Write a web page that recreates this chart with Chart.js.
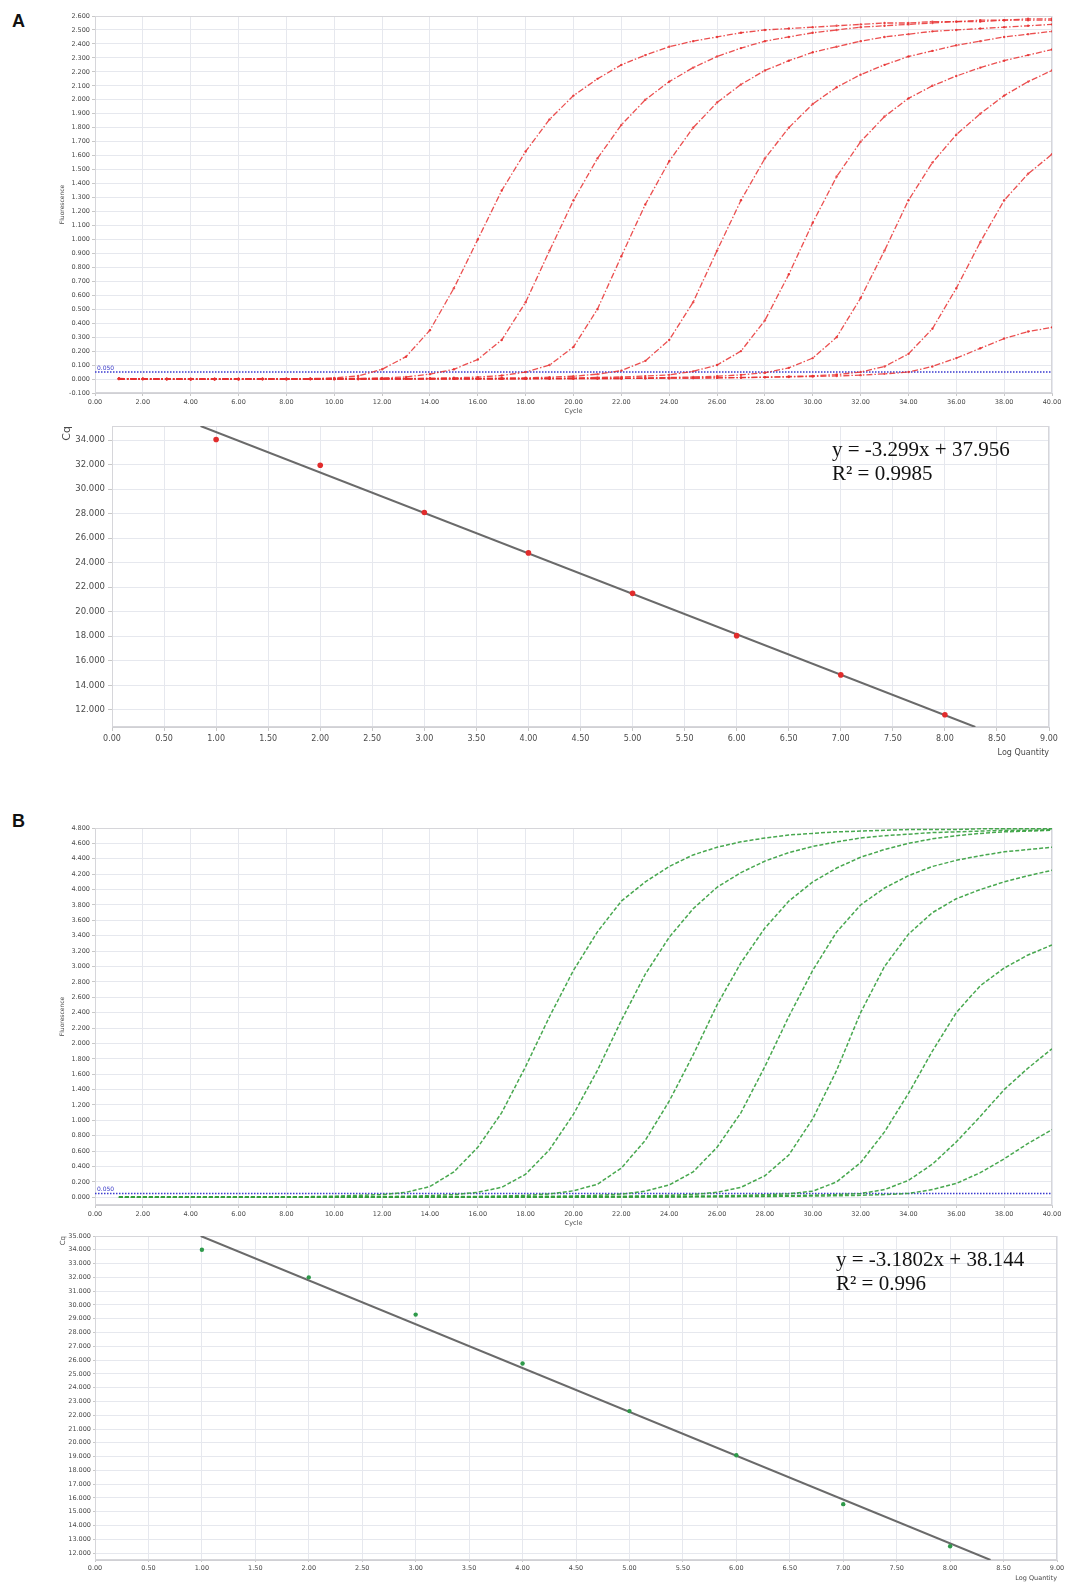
<!DOCTYPE html>
<html>
<head>
<meta charset="utf-8">
<script src="https://cdn.jsdelivr.net/npm/chart.js@4.4.1/dist/chart.umd.min.js"></script>
<style>
  html, body { margin: 0; padding: 0; background: #fff; }
  body { position: relative; width: 1067px; height: 1582px; overflow: hidden; }
  canvas { position: absolute; }
  .panel { position: absolute; font: bold 18px "Liberation Sans", Arial, sans-serif; line-height: 18px; color: #111; }
  .eq { position: absolute; font: 21px "Liberation Serif", "Times New Roman", serif; line-height: 24px; color: #111; white-space: nowrap; }
</style>
</head>
<body>
<div class="panel" style="left:12px;top:12px">A</div>
<canvas id="ampA" width="1008" height="415" style="left:59px;top:0px"></canvas>
<canvas id="stdA" width="1006" height="348" style="left:61px;top:410px"></canvas>
<div class="eq" style="left:832px;top:437px">y = -3.299x + 37.956<br>R² = 0.9985</div>

<div class="panel" style="left:12px;top:812px">B</div>
<canvas id="ampB" width="1008" height="415" style="left:59px;top:812px"></canvas>
<canvas id="stdB" width="1008" height="362" style="left:59px;top:1220px"></canvas>
<div class="eq" style="left:836px;top:1247px">y = -3.1802x + 38.144<br>R² = 0.996</div>

<script>
// ---- data ----
const cycles = [1,2,3,4,5,6,7,8,9,10,11,12,13,14,15,16,17,18,19,20,21,22,23,24,25,26,27,28,29,30,31,32,33,34,35,36,37,38,39,40];

// panel A amplification (red)
const ampA1 = [0.004,0.002,0.001,0.000,0.000,-0.001,0.000,0.001,0.003,0.008,0.022,0.07,0.16,0.35,0.65,1.00,1.35,1.63,1.86,2.03,2.15,2.25,2.32,2.38,2.42,2.45,2.48,2.50,2.51,2.52,2.53,2.54,2.55,2.55,2.56,2.56,2.57,2.57,2.58,2.58];
const ampA2 = [0.003,0.001,0.000,0.000,-0.001,0.000,0.000,0.001,0.002,0.003,0.005,0.008,0.015,0.035,0.07,0.14,0.28,0.55,0.92,1.28,1.58,1.82,2.00,2.13,2.23,2.31,2.37,2.42,2.45,2.48,2.50,2.52,2.53,2.54,2.55,2.56,2.56,2.57,2.57,2.57];
const ampA3 = [0.002,0.001,0.000,-0.001,0.000,0.000,0.001,0.000,0.001,0.002,0.002,0.003,0.004,0.006,0.009,0.014,0.025,0.05,0.10,0.23,0.50,0.88,1.25,1.56,1.80,1.98,2.11,2.21,2.28,2.34,2.38,2.42,2.45,2.47,2.49,2.50,2.51,2.52,2.53,2.54];
const ampA4 = [0.002,0.000,0.000,-0.001,0.000,0.001,0.000,0.000,0.001,0.001,0.002,0.002,0.003,0.003,0.004,0.005,0.007,0.009,0.013,0.02,0.035,0.06,0.13,0.28,0.55,0.92,1.28,1.58,1.80,1.97,2.09,2.18,2.25,2.31,2.35,2.39,2.42,2.45,2.47,2.49];
const ampA5 = [0.001,0.000,-0.001,0.000,0.000,0.001,0.000,-0.001,0.000,0.001,0.001,0.002,0.002,0.002,0.003,0.003,0.004,0.005,0.006,0.008,0.011,0.015,0.021,0.03,0.055,0.10,0.20,0.42,0.75,1.12,1.45,1.70,1.88,2.01,2.10,2.17,2.23,2.28,2.32,2.36];
const ampA6 = [0.001,0.000,0.000,-0.001,0.000,0.000,0.001,0.000,0.000,-0.001,0.000,0.001,0.001,0.001,0.002,0.002,0.002,0.003,0.003,0.004,0.005,0.006,0.008,0.011,0.015,0.02,0.03,0.045,0.08,0.15,0.30,0.58,0.92,1.28,1.55,1.75,1.90,2.03,2.13,2.21];
const ampA7 = [0.000,0.001,0.000,0.000,-0.001,0.000,0.000,0.001,0.000,0.000,0.000,0.001,0.001,0.001,0.001,0.002,0.002,0.002,0.003,0.003,0.004,0.004,0.005,0.006,0.007,0.009,0.011,0.014,0.018,0.023,0.032,0.05,0.09,0.18,0.36,0.65,0.98,1.28,1.47,1.61];
const ampA8 = [0.000,0.000,0.001,0.000,0.000,-0.001,0.000,0.000,0.000,0.001,0.000,0.001,0.001,0.001,0.001,0.002,0.002,0.002,0.003,0.003,0.004,0.004,0.005,0.006,0.007,0.008,0.010,0.012,0.015,0.018,0.022,0.028,0.037,0.05,0.09,0.15,0.22,0.29,0.34,0.37];

// panel B amplification (green)
const ampB1 = [0.000,0.001,0.000,0.000,0.001,0.002,0.003,0.005,0.009,0.015,0.025,0.035,0.065,0.14,0.33,0.65,1.10,1.70,2.35,2.95,3.45,3.85,4.10,4.30,4.45,4.55,4.62,4.67,4.71,4.73,4.75,4.76,4.77,4.78,4.78,4.78,4.79,4.79,4.79,4.79];
const ampB2 = [0.000,0.000,0.001,0.000,0.000,0.001,0.001,0.002,0.003,0.004,0.006,0.009,0.014,0.022,0.035,0.065,0.13,0.30,0.62,1.08,1.65,2.30,2.90,3.38,3.75,4.03,4.22,4.37,4.48,4.56,4.62,4.67,4.70,4.72,4.74,4.75,4.76,4.77,4.77,4.78];
const ampB3 = [0.000,0.001,0.000,0.000,0.000,0.001,0.001,0.001,0.002,0.002,0.003,0.004,0.005,0.007,0.009,0.012,0.017,0.025,0.045,0.085,0.17,0.38,0.74,1.25,1.85,2.50,3.05,3.50,3.85,4.10,4.28,4.42,4.52,4.60,4.66,4.70,4.73,4.75,4.76,4.77];
const ampB4 = [0.000,0.000,0.001,0.000,0.000,0.000,0.001,0.001,0.001,0.002,0.002,0.003,0.003,0.004,0.005,0.006,0.008,0.010,0.013,0.018,0.026,0.042,0.08,0.16,0.33,0.65,1.10,1.70,2.35,2.95,3.45,3.80,4.02,4.18,4.30,4.38,4.44,4.49,4.52,4.55];
const ampB5 = [0.000,0.000,0.000,0.001,0.000,0.000,0.001,0.001,0.001,0.001,0.002,0.002,0.002,0.003,0.003,0.004,0.005,0.006,0.007,0.009,0.011,0.014,0.019,0.026,0.037,0.065,0.13,0.28,0.55,1.02,1.65,2.40,3.00,3.42,3.70,3.88,4.00,4.10,4.18,4.25];
const ampB6 = [0.000,0.000,0.001,0.000,0.000,0.000,0.000,0.001,0.001,0.001,0.001,0.002,0.002,0.002,0.003,0.003,0.003,0.004,0.005,0.005,0.006,0.008,0.010,0.012,0.015,0.019,0.025,0.033,0.046,0.08,0.20,0.45,0.85,1.35,1.90,2.40,2.75,2.98,3.15,3.28];
const ampB7 = [0.000,0.000,0.000,0.001,0.000,0.000,0.000,0.000,0.001,0.001,0.001,0.001,0.001,0.002,0.002,0.002,0.002,0.003,0.003,0.004,0.004,0.005,0.006,0.007,0.009,0.011,0.014,0.018,0.022,0.028,0.036,0.05,0.10,0.22,0.43,0.72,1.05,1.40,1.68,1.93];
const ampB8 = [0.000,0.000,0.000,0.000,0.001,0.000,0.000,0.000,0.000,0.001,0.001,0.001,0.001,0.001,0.002,0.002,0.002,0.002,0.003,0.003,0.003,0.004,0.004,0.005,0.006,0.007,0.009,0.011,0.013,0.016,0.02,0.026,0.036,0.05,0.10,0.18,0.32,0.50,0.70,0.88];

const threshold = 0.05;

// standard curves
const logQty = [1, 2, 3, 4, 5, 6, 7, 8];
const cqA = [34.05, 31.95, 28.1, 24.8, 21.5, 18.05, 14.85, 11.6];
const cqB = [34.0, 32.0, 29.3, 25.75, 22.3, 19.1, 15.55, 12.5];
const fitA = { slope: -3.299, intercept: 37.956 };
const fitB = { slope: -3.1802, intercept: 38.144 };

// tick labels
const cycleTicks = [0,2,4,6,8,10,12,14,16,18,20,22,24,26,28,30,32,34,36,38,40];
const fluoTicksA = [-0.1,0,0.1,0.2,0.3,0.4,0.5,0.6,0.7,0.8,0.9,1.0,1.1,1.2,1.3,1.4,1.5,1.6,1.7,1.8,1.9,2.0,2.1,2.2,2.3,2.4,2.5,2.6];
const fluoTicksB = [0,0.2,0.4,0.6,0.8,1.0,1.2,1.4,1.6,1.8,2.0,2.2,2.4,2.6,2.8,3.0,3.2,3.4,3.6,3.8,4.0,4.2,4.4,4.6,4.8];
const qtyTicks = [0,0.5,1,1.5,2,2.5,3,3.5,4,4.5,5,5.5,6,6.5,7,7.5,8,8.5,9];
const cqTicksA = [12,14,16,18,20,22,24,26,28,30,32,34];
const cqTicksB = [12,13,14,15,16,17,18,19,20,21,22,23,24,25,26,27,28,29,30,31,32,33,34,35];

// ---- drawing ----
Chart.defaults.font.family = '"DejaVu Sans", sans-serif';
Chart.defaults.animation = false;
Chart.defaults.plugins.legend.display = false;
Chart.defaults.plugins.tooltip.enabled = false;

const GRID = '#e6e8ee';
const TEXT = '#4a4a4a';

const frame = {
  id: 'frame',
  beforeDatasetsDraw(chart) {
    const { ctx, chartArea: a } = chart;
    ctx.save();
    ctx.strokeStyle = '#d6d6da';
    ctx.lineWidth = 1;
    ctx.strokeRect(a.left + 0.5, a.top + 0.5, a.width - 1, a.height - 1);
    ctx.restore();
  }
};

const thresholdLabel = {
  id: 'thresholdLabel',
  afterDatasetsDraw(chart) {
    const { ctx, chartArea, scales } = chart;
    const y = scales.y.getPixelForValue(threshold);
    ctx.save();
    ctx.fillStyle = '#3838c8';
    ctx.font = '6px "DejaVu Sans"';
    ctx.textBaseline = 'bottom';
    ctx.fillText(threshold.toFixed(3), chartArea.left + 2, y - 1);
    ctx.restore();
  }
};

function axis(opts) {
  return {
    type: 'linear',
    min: opts.min,
    max: opts.max,
    afterBuildTicks: s => { s.ticks = opts.ticks.map(v => ({ value: v })); },
    afterFit: s => { if (opts.width) s.width = opts.width; if (opts.height) s.height = opts.height; },
    ticks: {
      autoSkip: false, maxRotation: 0, color: TEXT, padding: opts.pad,
      font: { size: opts.size },
      callback: v => v.toFixed(opts.digits)
    },
    grid: { color: GRID, tickColor: '#c8c8c8', tickLength: opts.tick },
    border: { color: '#d0d0d4' },
    title: {
      display: !!opts.title, text: opts.title, color: TEXT, padding: 0,
      align: opts.titleAlign || 'center', font: { size: opts.titleSize }
    }
  };
}

function ampChart(id, series, line, yOpts) {
  const datasets = series.map(vals => ({
    data: cycles.map((c, i) => ({ x: c, y: vals[i] })),
    showLine: true,
    borderColor: line.color,
    backgroundColor: line.color,
    borderWidth: line.width,
    borderDash: line.dash,
    pointRadius: line.point,
    pointBorderWidth: 0
  }));
  datasets.push({
    data: [{ x: 0, y: threshold }, { x: 40, y: threshold }],
    showLine: true, borderColor: '#3a3ad0', borderWidth: 1.6, borderDash: [1.5, 1.5], pointRadius: 0
  });
  new Chart(document.getElementById(id), {
    type: 'scatter',
    data: { datasets },
    options: {
      responsive: false,
      layout: { padding: { top: 16, right: 15, left: 0, bottom: 0 } },
      scales: {
        x: axis({ min: 0, max: 40, ticks: cycleTicks, digits: 2, size: 6.5, pad: 2, tick: 3, height: 22, title: 'Cycle', titleSize: 6.5 }),
        y: axis(Object.assign({ digits: 3, size: 6.5, pad: 2, tick: 3, width: 36, title: 'Fluorescence', titleSize: 6 }, yOpts))
      }
    },
    plugins: [frame, thresholdLabel]
  });
}

function stdChart(id, cq, fit, color, o) {
  const m = fit.slope, b = fit.intercept;
  const xTop = (o.yMax - b) / m, xBottom = (o.yMin - b) / m;
  new Chart(document.getElementById(id), {
    type: 'scatter',
    data: {
      datasets: [
        {
          data: logQty.map((q, i) => ({ x: q, y: cq[i] })),
          backgroundColor: color, borderWidth: 0, pointRadius: o.dot
        },
        {
          data: [{ x: xTop, y: m * xTop + b }, { x: xBottom, y: m * xBottom + b }],
          showLine: true, borderColor: '#6a6a6a', borderWidth: 2, pointRadius: 0
        }
      ]
    },
    options: {
      responsive: false,
      layout: { padding: { top: 16, right: o.right, left: 0, bottom: 0 } },
      scales: {
        x: axis({ min: 0, max: 9, ticks: qtyTicks, digits: 2, size: o.xSize, pad: o.pad, tick: o.tick, height: o.xHeight,
                  title: 'Log Quantity', titleAlign: 'end', titleSize: o.xSize }),
        y: axis({ min: o.yMin, max: o.yMax, ticks: o.ticks, digits: 3, size: o.ySize, pad: o.pad, tick: o.tick, width: o.yWidth,
                  title: 'Cq', titleAlign: 'end', titleSize: o.cqSize })
      }
    },
    plugins: [frame]
  });
}

ampChart('ampA', [ampA1, ampA2, ampA3, ampA4, ampA5, ampA6, ampA7, ampA8],
  { color: 'rgba(232,48,48,0.85)', width: 1.3, dash: [6, 2, 1.5, 2], point: 1.2 },
  { min: -0.1, max: 2.6, ticks: fluoTicksA });

stdChart('stdA', cqA, fitA, '#e12c2c',
  { yMin: 10.6, yMax: 35.15, ticks: cqTicksA, dot: 2.8, right: 18, xSize: 8, ySize: 8.5, pad: 3, tick: 4,
    xHeight: 31, yWidth: 51, cqSize: 11 });

ampChart('ampB', [ampB1, ampB2, ampB3, ampB4, ampB5, ampB6, ampB7, ampB8],
  { color: 'rgba(52,158,60,0.9)', width: 1.5, dash: [4, 2], point: 0 },
  { min: -0.1, max: 4.8, ticks: fluoTicksB });

stdChart('stdB', cqB, fitB, '#2e9a4a',
  { yMin: 11.5, yMax: 35, ticks: cqTicksB, dot: 2.2, right: 10, xSize: 6.5, ySize: 6.5, pad: 2, tick: 2,
    xHeight: 22, yWidth: 36, cqSize: 7 });
</script>
</body>
</html>
